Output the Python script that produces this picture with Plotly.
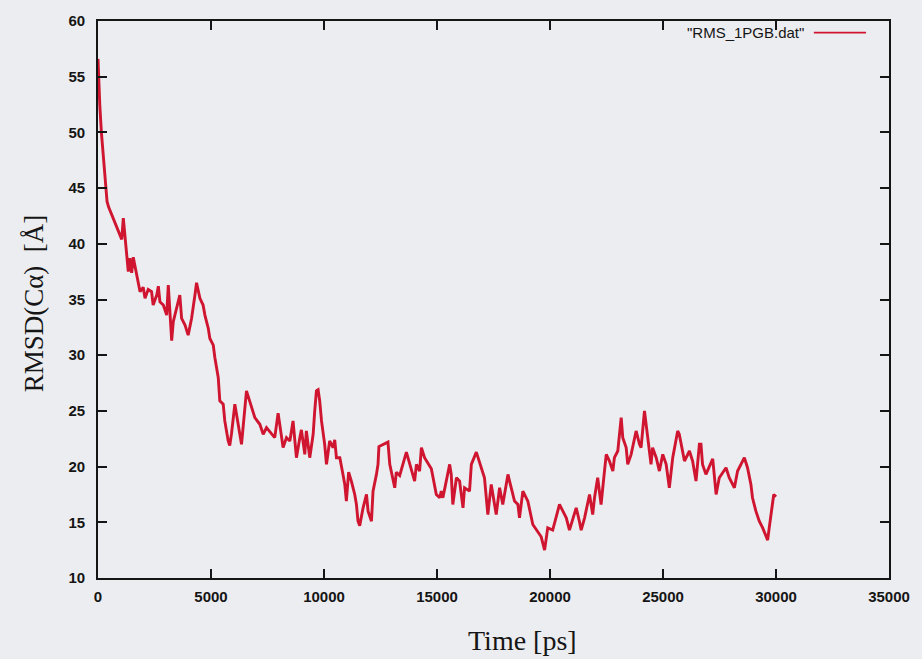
import plotly.graph_objects as go

# Time [ps] and RMSD(C-alpha) [Angstrom]
time_ps = [
    0, 30, 80, 150, 250, 330, 400, 470, 605, 750, 900, 1050, 1120, 1190, 1270, 1340,
    1410, 1490, 1560, 1710, 1780, 1860, 2000, 2080, 2220, 2370, 2440, 2600, 2670, 2740,
    2890, 3040, 3110, 3180, 3260, 3330, 3480, 3620, 3700, 3850, 3990, 4140, 4290, 4360,
    4510, 4650, 4730, 4880, 4950, 5100, 5170, 5320, 5390, 5540, 5610, 5760, 5830, 5910,
    6055, 6350, 6570, 6720, 6940, 7160, 7310, 7455, 7680, 7820, 7970, 8120, 8190, 8340,
    8490, 8630, 8780, 8930, 9000, 9150, 9220, 9370, 9520, 9590, 9665, 9740, 9810, 9890,
    10030, 10110, 10250, 10400, 10475, 10550, 10700, 10840, 10920, 10990, 11090, 11210,
    11360, 11435, 11505, 11580, 11730, 11880, 11950, 12100, 12170, 12320, 12390, 12430,
    12610, 12830, 12910, 13130, 13200, 13350, 13645, 13790, 14010, 14090, 14230, 14310,
    14450, 14750, 14970, 15120, 15190, 15260, 15560, 15630, 15700, 15860, 16000, 16150,
    16220, 16440, 16520, 16740, 16960, 17100, 17250, 17400, 17620, 17770, 17910, 18140,
    18210, 18430, 18580, 18650, 18800, 19020, 19240, 19610, 19760, 19900, 20120, 20420,
    20570, 20720, 20860, 21010, 21160, 21300, 21380, 21530, 21750, 21890, 21970, 22110,
    22260, 22410, 22490, 22630, 22780, 22850, 23000, 23150, 23220, 23370, 23440, 23590,
    23810, 23960, 24030, 24180, 24320, 24470, 24540, 24700, 24840, 24990, 25140, 25280,
    25430, 25650, 25720, 25950, 26170, 26310, 26460, 26610, 26680, 26750, 26900, 27200,
    27350, 27490, 27790, 27930, 28160, 28300, 28600, 28740, 28890, 28960, 29110, 29260,
    29410, 29630, 29700, 29850, 29900, 30000,
]
rmsd = [
    56.6, 54.8, 52.4, 50.0, 47.4, 45.8, 43.8, 43.3, 42.6, 42.0, 41.1, 40.4, 42.3, 40.8, 38.7, 37.5,
    38.7, 37.4, 38.8, 37.3, 36.6, 35.7, 36.1, 35.1, 35.9, 35.7, 34.5, 35.4, 36.2, 34.8,
    34.5, 33.6, 36.3, 33.6, 31.3, 33.0, 34.2, 35.4, 33.3, 32.7, 31.8, 33.3, 35.4, 36.5,
    35.1, 34.5, 33.6, 32.4, 31.5, 30.9, 29.8, 28.0, 25.9, 25.6, 24.1, 22.3, 21.9, 23.0,
    25.6, 22.0, 26.8, 25.9, 24.4, 23.8, 22.9, 23.5, 23.0, 22.6, 24.8, 22.9, 21.7, 22.6,
    22.3, 24.1, 20.8, 22.6, 23.3, 21.1, 23.2, 20.8, 22.9, 25.0, 26.8, 26.9, 25.9, 24.1,
    22.0, 20.2, 22.3, 21.7, 22.4, 20.8, 20.8, 19.3, 18.4, 16.9, 19.5, 18.7,
    17.5, 16.6, 15.1, 14.7, 16.3, 17.5, 16.0, 15.1, 17.8, 19.3, 20.2, 21.8,
    22.0, 22.2, 20.2, 18.1, 19.5, 19.2, 21.3, 20.2, 18.7, 20.2, 19.6, 21.7,
    20.8, 19.8, 17.5, 17.2, 17.8, 17.2, 20.2, 19.3, 16.6, 19.0, 18.7, 16.3,
    18.1, 17.8, 20.2, 21.3, 19.9, 19.0, 15.7, 18.4, 15.7, 18.1, 16.6, 19.3,
    18.7, 16.9, 16.6, 15.4, 17.8, 16.9, 14.8, 13.7, 12.5, 14.5, 14.3, 16.6,
    16.0, 15.4, 14.3, 15.4, 16.3, 15.1, 14.3, 15.4, 17.5, 15.7, 17.2, 19.0,
    16.6, 19.6, 21.1, 20.5, 19.6, 20.8, 21.4, 24.4, 22.6, 21.7, 20.2, 21.1,
    23.2, 22.0, 21.7, 25.0, 22.6, 20.2, 21.7, 20.8, 19.6, 21.1, 20.2, 18.1,
    20.8, 23.2, 22.9, 20.5, 21.4, 20.5, 18.7, 22.0, 22.0, 20.2, 19.3, 20.7,
    17.5, 19.0, 19.9, 19.0, 18.1, 19.6, 20.8, 19.9, 18.4, 17.2, 16.0, 15.1,
    14.5, 13.4, 14.5, 16.9, 17.5, 17.3,
]

x_ticks = [0, 5000, 10000, 15000, 20000, 25000, 30000, 35000]
y_ticks = [10, 15, 20, 25, 30, 35, 40, 45, 50, 55, 60]

series_name = '"RMS_1PGB.dat"'
line_color = "#cf1530"
bg = "#ecedf0"
ink = "#151515"

fig = go.Figure()
fig.add_trace(go.Scatter(
    x=time_ps, y=rmsd, mode="lines", name=series_name,
    line=dict(color=line_color, width=2.9), showlegend=False,
))

tickfont = dict(family="Liberation Sans", size=15, color=ink, weight="bold")
axis_common = dict(
    showline=True, linewidth=1.8, linecolor=ink, mirror="ticks",
    ticks="inside", ticklen=9, tickwidth=1.6, tickcolor=ink,
    showgrid=False, zeroline=False, tickfont=tickfont,
)

fig.update_layout(
    width=922, height=659,
    margin=dict(l=98, r=32, t=18, b=81),
    paper_bgcolor=bg, plot_bgcolor=bg,
    xaxis=dict(range=[0, 35000], tickvals=x_ticks, ticktext=[str(v) for v in x_ticks],
               ticklabelstandoff=4, **axis_common),
    yaxis=dict(range=[10, 60], tickvals=y_ticks, ticktext=[str(v) for v in y_ticks],
               ticklabelstandoff=8, **axis_common),
    annotations=[
        dict(text="Time [ps]", xref="paper", yref="paper", x=0.537, y=-0.112,
             xanchor="center", yanchor="middle", showarrow=False,
             font=dict(family="Liberation Serif", size=28, color=ink)),
        dict(text="RMSD(Cα)  [Å]", xref="paper", yref="paper", x=-0.081, y=0.493,
             xanchor="center", yanchor="middle", textangle=-90, showarrow=False,
             font=dict(family="Liberation Serif", size=27, color=ink)),
        dict(text=series_name, xref="paper", yref="paper", x=0.895, y=0.979,
             xanchor="right", yanchor="middle", showarrow=False,
             font=dict(family="Liberation Sans", size=15, color=ink)),
    ],
    shapes=[
        dict(type="line", xref="paper", yref="paper", x0=0.905, x1=0.971,
             y0=0.979, y1=0.979, line=dict(color=line_color, width=1.8)),
    ],
)

fig.write_html("out.html")
